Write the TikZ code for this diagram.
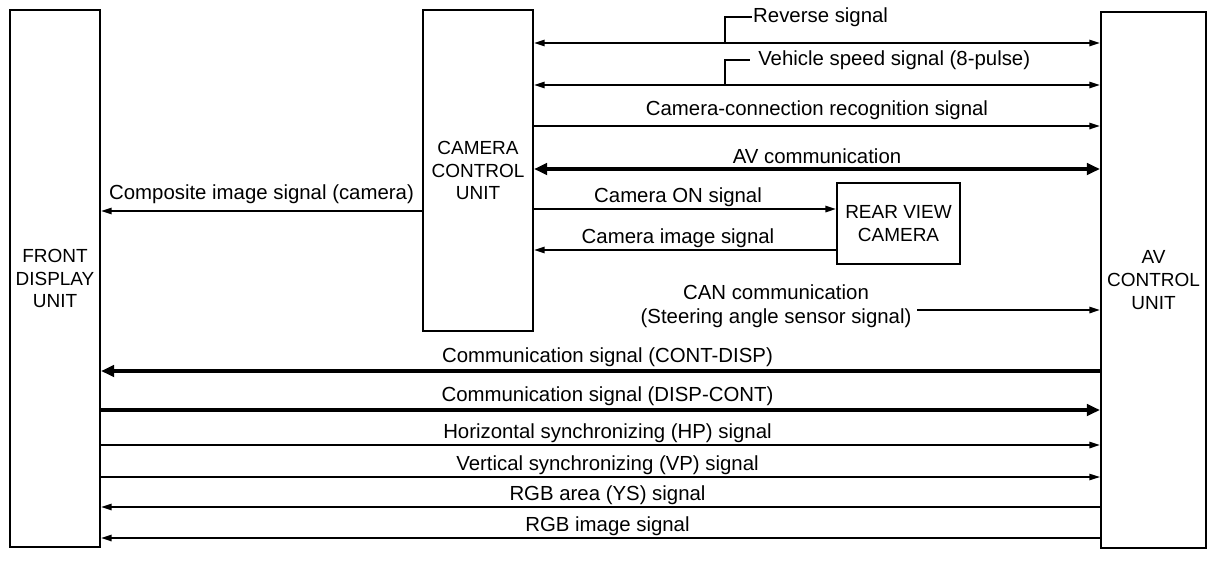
\documentclass[tikz,border=0pt]{standalone}
\usepackage{fontspec}
\setmainfont{Liberation Sans}
\usepackage{tikz}
\usetikzlibrary{positioning, arrows.meta}

\tikzset{
  unitbox/.style={draw, line width=1.2pt, align=center, inner sep=0pt,
                  font=\fontsize{10.8}{13}\selectfont},
  sig/.style={line width=1pt, -{Triangle[length=6pt, width=3.6pt]}},
  sigboth/.style={line width=1pt, {Triangle[length=6pt, width=3.6pt]}-{Triangle[length=6pt, width=3.6pt]}},
  bus/.style={line width=2.6pt, -{Triangle[length=7.5pt, width=6.5pt]}},
  busboth/.style={line width=2.6pt, {Triangle[length=7.5pt, width=6.5pt]}-{Triangle[length=7.5pt, width=6.5pt]}},
  lbl/.style={above, inner sep=1pt},
  lowlbl/.style={above, inner sep=1pt, xshift=0.14cm}
}

\begin{document}
\begin{tikzpicture}[x=0.02cm, y=-0.02cm, font=\fontsize{11.6}{13.6}\selectfont]
          \useasboundingbox (0,0) rectangle (1216,582);
          % Units
          \node[unitbox, minimum width=1.8cm, minimum height=10.74cm] (fdu) at (55,278.5) {FRONT\\DISPLAY\\UNIT};
          \node[unitbox, minimum width=2.1cm, minimum height=10.72cm] (avcu) at (1153.5,280) {AV\\CONTROL\\UNIT};
          \node[unitbox, minimum width=2.2cm, minimum height=6.42cm] (ccu) at (478,170.5) {CAMERA\\CONTROL\\UNIT};
          \node[unitbox, minimum width=2.46cm, minimum height=1.62cm,
                below right=3.46cm and 6.04cm of ccu.north east] (rvc) {REAR VIEW\\CAMERA};
          % Reverse / vehicle speed
          \coordinate (revj) at (725,43);
          \coordinate (spdj) at (725,85);
          \node[anchor=west, inner xsep=0.5pt] (revlbl) at (752,17) {Reverse signal};
          \node[anchor=west, inner xsep=4.5pt] (spdlbl) at (750,60) {Vehicle speed signal (8-pulse)};
          \draw[sigboth] (ccu.east |- revj) -- (avcu.west |- revj);
          \draw[line width=1pt] (revj) |- (revlbl.west);
          \draw[sigboth] (ccu.east |- spdj) -- (avcu.west |- spdj);
          \draw[line width=1pt] (spdj) |- (spdlbl.west);
          % Camera control unit <-> AV control unit
          \draw[sig] (ccu.east |- 0,126) -- node[lbl, yshift=2pt] (connlbl) {Camera-connection recognition signal} (avcu.west |- 0,126);
          \draw[busboth] (ccu.east |- 0,169) -- node[lbl, yshift=0.9pt] (avlbl) {AV communication} (avcu.west |- 0,169);
          % Camera
          \draw[sig] (ccu.west |- 0,211) -- node[lbl, yshift=2.6pt] (complbl) {Composite image signal (camera)} (fdu.east |- 0,211);
          \draw[sig] (ccu.east |- 0,209) -- node[lbl, xshift=-0.14cm] (onlbl) {Camera ON signal} (rvc.west |- 0,209);
          \draw[sig] (rvc.west |- 0,250) -- node[lbl, xshift=-0.14cm] (imglbl) {Camera image signal} (ccu.east |- 0,250);
          % CAN
          \node[align=center, inner xsep=3pt] (canlbl) at (776,306) {CAN communication\\(Steering angle sensor signal)};
          \draw[sig] (canlbl.east |- 0,310) -- (avcu.west |- 0,310);
          % Front display unit <-> AV control unit
          \draw[bus] (avcu.west |- 0,371) -- node[lowlbl] (cdlbl) {Communication signal (CONT-DISP)} (fdu.east |- 0,371);
          \draw[bus] (fdu.east |- 0,410) -- node[lowlbl] (dclbl) {Communication signal (DISP-CONT)} (avcu.west |- 0,410);
          \draw[sig] (fdu.east |- 0,445) -- node[lowlbl] (hplbl) {Horizontal synchronizing (HP) signal} (avcu.west |- 0,445);
          \draw[sig, line width=0.7pt] (fdu.east |- 0,477) -- node[lowlbl] (vplbl) {Vertical synchronizing (VP) signal} (avcu.west |- 0,477);
          \draw[sig] (avcu.west |- 0,507) -- node[lowlbl] (yslbl) {RGB area (YS) signal} (fdu.east |- 0,507);
          \draw[sig] (avcu.west |- 0,538) -- node[lowlbl] (rgblbl) {RGB image signal} (fdu.east |- 0,538);
        \end{tikzpicture}
\end{document}
